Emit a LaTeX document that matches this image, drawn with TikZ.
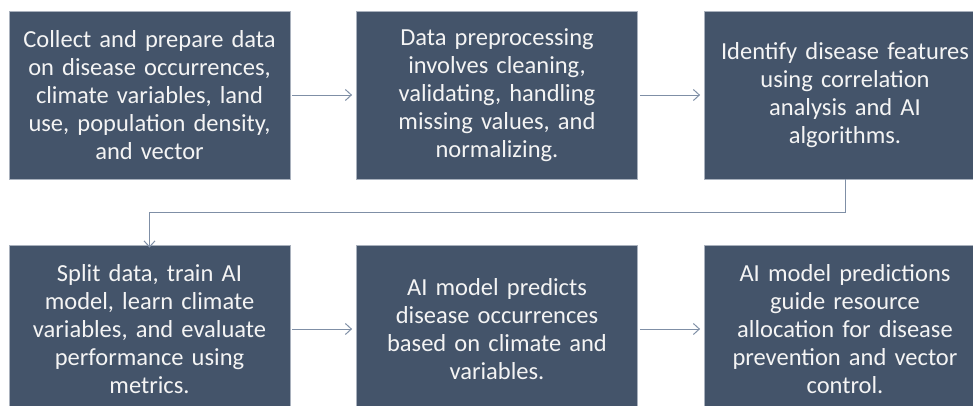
\documentclass[tikz,border=0pt]{standalone}
\usepackage{fontspec}
\setmainfont{Carlito}
\usetikzlibrary{arrows.meta}
\definecolor{boxfill}{HTML}{44546A}
\definecolor{boxline}{HTML}{A9B1BD}
\definecolor{arrowc}{HTML}{7F8FA6}
\definecolor{txt}{HTML}{F4F4F4}
\tikzset{
  procbox/.style={draw=boxline, line width=0.8pt, fill=boxfill, minimum width=281pt, minimum height=168pt,
    text width=278pt, align=center, text=txt, inner sep=0pt,
    font=\fontsize{24.5pt}{28pt}\selectfont},
  flow/.style={draw=arrowc, line width=1pt, -{Straight Barb[length=6pt,width=11pt,line width=1pt]}}
}
\begin{document}
\begin{tikzpicture}[x=1pt,y=-1pt]
\useasboundingbox (0,0) rectangle (973,405);
\clip (0,0) rectangle (973,405);
\node[procbox] (b1) at (149.5,95) {Collect and prepare data\\on disease occurrences,\\climate variables, land\\use, population density,\\and vector};
\node[procbox] (b2) at (497,95) {Data preprocessing\\involves cleaning,\\validating, handling\\missing values, and\\normalizing.};
\node[procbox] (b3) at (845,95) {Identify disease features\\using correlation\\analysis and AI\\algorithms.};
\node[procbox] (b4) at (149.5,329) {Split data, train AI\\model, learn climate\\variables, and evaluate\\performance using\\metrics.};
\node[procbox] (b5) at (497,329) {AI model predicts\\disease occurrences\\based on climate and\\variables.};
\node[procbox] (b6) at (845,329) {AI model predictions\\guide resource\\allocation for disease\\prevention and vector\\control.};
\coordinate (ct) at (845,212);
\draw[flow] (b1.east) ++(2,0) -- ([xshift=-4pt]b2.west);
\draw[flow] (b2.east) ++(2,0) -- ([xshift=-4pt]b3.west);
\draw[flow] (b4.east) ++(2,0) -- ([xshift=-4pt]b5.west);
\draw[flow] (b5.east) ++(2,0) -- ([xshift=-4pt]b6.west);
\draw[flow] (b3.south) |- (ct) -| ([yshift=-3pt]b4.north);
\end{tikzpicture}
\end{document}
